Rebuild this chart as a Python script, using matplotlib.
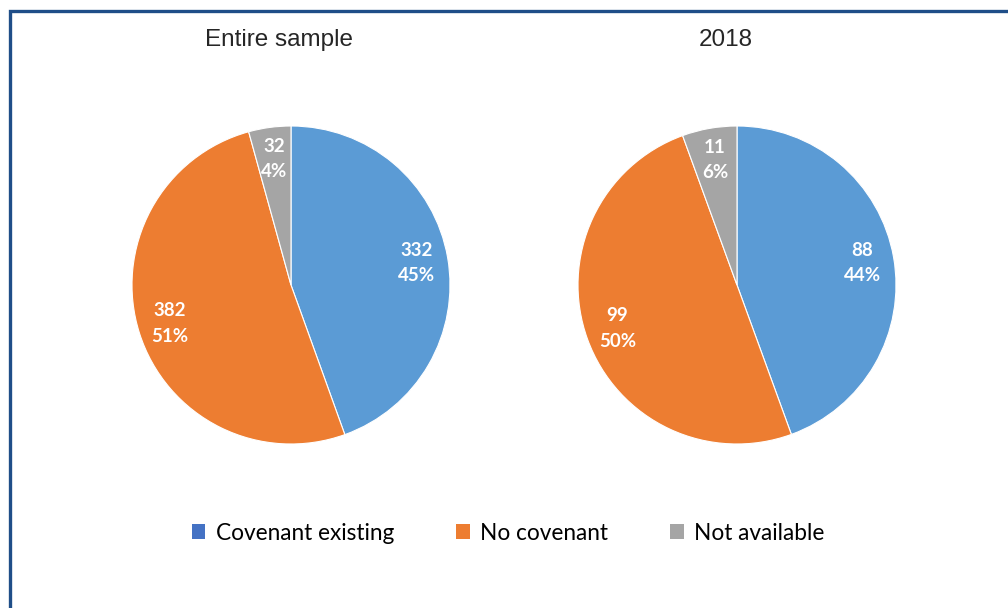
import matplotlib.pyplot as plt
from matplotlib.patches import Patch, Rectangle

# covenant counts per sample
categories = ["Covenant existing", "No covenant", "Not available"]
entire_sample = [332, 382, 32]
year_2018 = [88, 99, 11]
titles = ["Entire sample", "2018"]

slice_colors = ["#5B9BD5", "#ED7D31", "#A5A5A5"]
legend_colors = ["#4472C4", "#ED7D31", "#A5A5A5"]

W, H = 1008, 608
fig = plt.figure(figsize=(W / 100, H / 100), dpi=100)

# frame along top and left edge
fig.patches.append(Rectangle((10 / W, -0.1), 1.2, (H - 11) / H + 0.1,
                             transform=fig.transFigure, fill=False,
                             edgecolor="#1F4E88", linewidth=2.4))

r = 159
centers = [(291, 285), (737, 285)]
title_x = [279, 726]


def make_label(values):
    total = sum(values)

    def fmt(pct):
        v = int(round(pct * total / 100))
        return f"{v}\n{round(pct):.0f}%"
    return fmt


for (cx, cy), tx, title, vals in zip(centers, title_x, titles, [entire_sample, year_2018]):
    ax = fig.add_axes([(cx - r) / W, (H - cy - r) / H, 2 * r / W, 2 * r / H])
    ax.pie(vals, colors=slice_colors, startangle=90, counterclock=False,
           autopct=make_label(vals), pctdistance=0.8,
           wedgeprops=dict(edgecolor="white", linewidth=0.8),
           textprops=dict(color="white", fontsize=13.5, fontweight="bold",
                          family="Lato", linespacing=1.6))
    ax.set_xlim(-1, 1)
    ax.set_ylim(-1, 1)
    ax.set_aspect("equal")
    fig.text(tx / W, 1 - 40 / H, title, ha="center", va="center",
             fontsize=17.5, family="Liberation Sans", color="#262626")

handles = [Patch(facecolor=c, edgecolor="none") for c in legend_colors]
fig.legend(handles, categories, loc="center", bbox_to_anchor=(508 / W, 1 - 533 / H),
           ncol=3, frameon=False, handlelength=0.6, handleheight=0.6,
           handletextpad=0.45, columnspacing=2.75,
           prop=dict(family="Lato", size=16.3))

plt.savefig("out.png", dpi=100)
